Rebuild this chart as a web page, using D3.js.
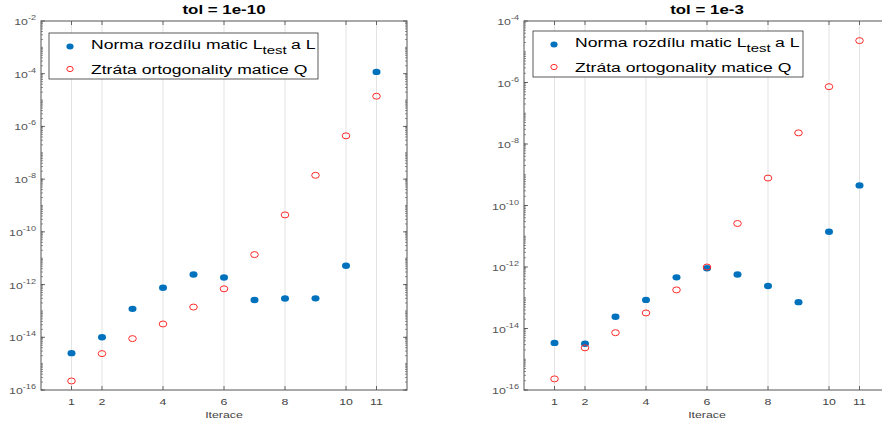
<!DOCTYPE html>
<html>
<head>
  <script src="https://d3js.org/d3.v7.min.js"></script>
  <style>
    body { margin: 0; background: #fff; }
    text { font-family: "Liberation Sans", Arial, sans-serif; }
  </style>
</head>
<body>
  <div id="chart"></div>
  <script>
    // iterations and x ticks
    const iterations = [1, 2, 3, 4, 5, 6, 7, 8, 9, 10, 11];
    const xTickValues = [1, 2, 4, 6, 8, 10, 11];
    const seriesNames = ["Norma rozdílu matic L", "Ztráta ortogonality matice Q"];

    // tol = 1e-10
    const normTol10 = [2.5e-15, 1e-14, 1.2e-13, 7.6e-13, 2.4e-12, 1.85e-12, 2.6e-13, 2.95e-13, 3e-13, 5.2e-12, 1.17e-4];
    const orthTol10 = [2.2e-16, 2.4e-15, 8.9e-15, 3.2e-14, 1.4e-13, 6.9e-13, 1.37e-11, 4.4e-10, 1.4e-8, 4.4e-7, 1.4e-5];

    // tol = 1e-3
    const normTol3 = [3.4e-15, 3.2e-15, 2.4e-14, 8.5e-14, 4.6e-13, 9.1e-13, 5.7e-13, 2.4e-13, 7.2e-14, 1.4e-11, 4.5e-10];
    const orthTol3 = [2.3e-16, 2.35e-15, 7.3e-15, 3.2e-14, 1.8e-13, 1e-12, 2.6e-11, 7.8e-10, 2.3e-8, 7.3e-7, 2.3e-5];

    const width = 882, height = 425;
    const sx = 1.3; // picture is stretched horizontally
    const blue = "#0072bd", red = "#ff2a2a";

    const svg = d3.select("#chart").append("svg")
      .attr("width", width).attr("height", height);

    function label(g, x, y, anchor, size, weight) {
      return g.append("text")
        .attr("transform", `translate(${x},${y}) scale(${sx},1)`)
        .attr("text-anchor", anchor)
        .style("font-size", size + "px")
        .style("font-weight", weight || "normal");
    }

    function drawPanel(opts) {
      const x = d3.scaleLinear().domain([0, 12]).range([opts.left, opts.right]);
      const y = d3.scaleLog().domain(opts.yDomain).range([390, 21]);
      const g = svg.append("g");
      const top = 21, bottom = 390;

      // vertical grid
      g.selectAll(".grid").data(xTickValues).enter().append("line")
        .attr("x1", d => x(d)).attr("x2", d => x(d))
        .attr("y1", top).attr("y2", bottom)
        .attr("stroke", "#e3e3e3").attr("stroke-width", 1);

      // log ticks (major every 2 decades, minor inside each decade)
      const lo = Math.log10(opts.yDomain[0]), hi = Math.log10(opts.yDomain[1]);
      const minor = [], major = [];
      for (let e = lo; e < hi; e++) {
        for (let m = 1; m < 10; m++) minor.push(m * Math.pow(10, e));
      }
      for (let e = lo; e <= hi; e += 2) major.push(Math.pow(10, e));

      [opts.left, opts.right].forEach((ax, i) => {
        const dir = i === 0 ? 1 : -1;
        g.selectAll(null).data(minor).enter().append("line")
          .attr("x1", ax).attr("x2", ax + dir * 2)
          .attr("y1", d => y(d)).attr("y2", d => y(d))
          .attr("stroke", "#444").attr("stroke-width", 0.6);
        g.selectAll(null).data(major).enter().append("line")
          .attr("x1", ax).attr("x2", ax + dir * 4)
          .attr("y1", d => y(d)).attr("y2", d => y(d))
          .attr("stroke", "#444").attr("stroke-width", 0.8);
      });

      [top, bottom].forEach((ay, i) => {
        const dir = i === 0 ? 1 : -1;
        g.selectAll(null).data(xTickValues).enter().append("line")
          .attr("x1", d => x(d)).attr("x2", d => x(d))
          .attr("y1", ay).attr("y2", ay + dir * 4)
          .attr("stroke", "#444").attr("stroke-width", 0.8);
      });

      // axes box
      g.append("rect")
        .attr("x", opts.left).attr("y", top)
        .attr("width", opts.right - opts.left).attr("height", bottom - top)
        .attr("fill", "none").attr("stroke", "#555").attr("stroke-width", 1);

      // y tick labels
      major.forEach(v => {
        const t = label(g, opts.left - 5, y(v) + 4, "end", 9.5).attr("fill", "#555");
        t.append("tspan").text("10");
        t.append("tspan").attr("dy", -5).style("font-size", "7px")
          .text(String(Math.round(Math.log10(v))));
      });

      // x tick labels
      xTickValues.forEach(v => {
        label(g, x(v), 405, "middle", 9.5).attr("fill", "#444").text(v);
      });

      label(g, (opts.left + opts.right) / 2, 418, "middle", 9.5).attr("fill", "#444").text("Iterace");
      label(g, (opts.left + opts.right) / 2, 13.5, "middle", 13, "bold").attr("fill", "#000").text(opts.title);

      // points
      g.selectAll(".norm").data(iterations).enter().append("ellipse")
        .attr("cx", d => x(d)).attr("cy", (d, i) => y(opts.norm[i]))
        .attr("rx", 4).attr("ry", 3.2).attr("fill", blue);
      g.selectAll(".orth").data(iterations).enter().append("ellipse")
        .attr("cx", d => x(d)).attr("cy", (d, i) => y(opts.orth[i]))
        .attr("rx", 3.8).attr("ry", 3)
        .attr("fill", "none").attr("stroke", red).attr("stroke-width", 1);

      // legend
      const L = opts.legend;
      g.append("rect").attr("x", L.x).attr("y", L.y).attr("width", L.w).attr("height", L.h)
        .attr("fill", "#fff").attr("stroke", "#333").attr("stroke-width", 0.8);
      g.append("ellipse").attr("cx", L.x + 21).attr("cy", L.y + 13.5)
        .attr("rx", 3.6).attr("ry", 3).attr("fill", blue);
      g.append("ellipse").attr("cx", L.x + 21).attr("cy", L.y + 36)
        .attr("rx", 3.2).attr("ry", 2.6).attr("fill", "none").attr("stroke", red);
      const t1 = label(g, L.x + 42, L.y + 16, "start", 13.5).attr("fill", "#000");
      t1.append("tspan").text(seriesNames[0]);
      t1.append("tspan").attr("dy", 5).style("font-size", "11.5px").text("test");
      t1.append("tspan").attr("dy", -5).attr("dx", 3.5).text("a L");
      label(g, L.x + 42, L.y + 41, "start", 13.5).attr("fill", "#000").text(seriesNames[1]);
    }

    drawPanel({
      left: 41, right: 407, yDomain: [1e-16, 1e-2], title: "tol = 1e-10",
      norm: normTol10, orth: orthTol10,
      legend: { x: 49, y: 33, w: 269, h: 46 }
    });
    drawPanel({
      left: 524, right: 890, yDomain: [1e-16, 1e-4], title: "tol = 1e-3",
      norm: normTol3, orth: orthTol3,
      legend: { x: 533, y: 31, w: 270, h: 46 }
    });
  </script>
</body>
</html>
